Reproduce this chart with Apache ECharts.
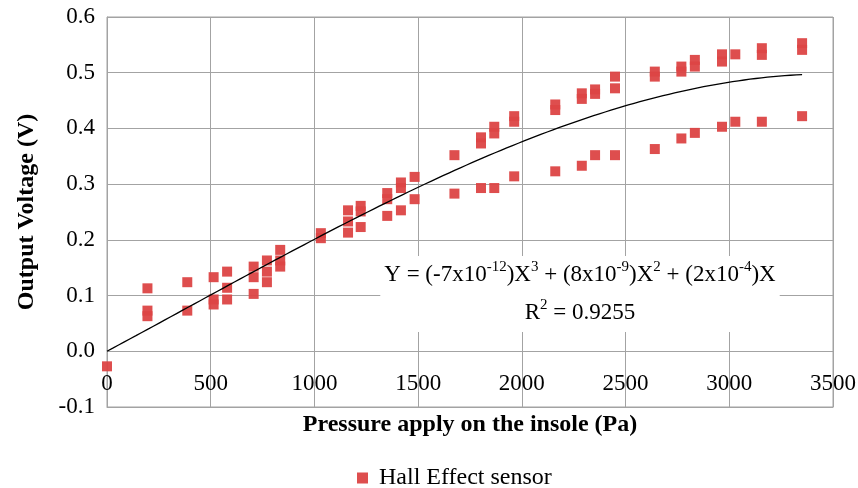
<!DOCTYPE html>
<html>
<head>
<meta charset="utf-8">
<script src="https://cdn.jsdelivr.net/npm/echarts@6/dist/echarts.min.js"></script>
<style>
  html, body { margin: 0; padding: 0; background: #fff; }
  #chart { width: 858px; height: 488px; }
</style>
</head>
<body>
<div id="chart"></div>
<script>
// Hall effect sensor calibration: applied pressure (Pa) vs output voltage (V)
const pressurePa = [
  0,
  195, 195, 195,
  387, 387,
  514, 514, 514,
  579, 579, 579,
  707, 707, 707,
  771, 771, 771,
  835, 835, 835,
  1031, 1031,
  1162, 1162, 1162,
  1223, 1223, 1223,
  1351, 1351, 1351,
  1417, 1417, 1417,
  1483, 1483,
  1675, 1675,
  1803, 1803, 1803,
  1867, 1867, 1867,
  1963, 1963, 1963,
  2161, 2161, 2161,
  2289, 2289, 2289,
  2353, 2353, 2353,
  2449, 2449, 2449,
  2641, 2641, 2641,
  2769, 2769, 2769,
  2834, 2834, 2834,
  2965, 2965, 2965,
  3029, 3029,
  3157, 3157, 3157,
  3351, 3351, 3351
];
const voltageV = [
  -0.027,
  0.113, 0.073, 0.063,
  0.124, 0.073,
  0.133, 0.093, 0.084,
  0.143, 0.114, 0.093,
  0.152, 0.133, 0.103,
  0.163, 0.143, 0.124,
  0.182, 0.163, 0.152,
  0.212, 0.203,
  0.253, 0.233, 0.213,
  0.261, 0.251, 0.223,
  0.284, 0.273, 0.243,
  0.303, 0.293, 0.253,
  0.313, 0.273,
  0.352, 0.283,
  0.384, 0.373, 0.293,
  0.403, 0.391, 0.293,
  0.422, 0.412, 0.314,
  0.443, 0.433, 0.323,
  0.463, 0.453, 0.333,
  0.470, 0.462, 0.352,
  0.493, 0.472, 0.352,
  0.502, 0.493, 0.363,
  0.511, 0.502, 0.382,
  0.523, 0.511, 0.392,
  0.533, 0.520, 0.403,
  0.533, 0.412,
  0.544, 0.532, 0.412,
  0.553, 0.541, 0.422
];

// Cubic trendline through the origin: Y = a*X^3 + b*X^2 + c*X
const trendCoef = [-7e-12, 8e-9, 2e-4];

const xTicks = { min: 0, max: 3500, step: 500 };
const yTicks = { min: -0.1, max: 0.6, step: 0.1 };

const FONT = '"Liberation Serif", "Times New Roman", serif';
const GRID_COLOR = '#a3a3a3';
const MARK_COLOR = '#dc4545';

const points = pressurePa.map((p, i) => [p, voltageV[i]]);

const xEnd = Math.max(...pressurePa);
const trend = [];
for (let k = 0; k <= 120; k++) {
  const x = xEnd * k / 120;
  trend.push([x, trendCoef[0] * x * x * x + trendCoef[1] * x * x + trendCoef[2] * x]);
}

const chart = echarts.init(document.getElementById('chart'), null, { renderer: 'canvas' });

chart.setOption({
  animation: false,
  backgroundColor: '#fff',
  textStyle: { fontFamily: FONT },
  grid: {
    left: 107, right: 25, top: 17, bottom: 81,
    outerBoundsMode: 'none',
    show: true, borderColor: GRID_COLOR, borderWidth: 1, backgroundColor: 'transparent'
  },
  xAxis: {
    type: 'value',
    min: xTicks.min, max: xTicks.max, interval: xTicks.step,
    axisLine: { show: true, onZero: false, lineStyle: { color: GRID_COLOR, width: 1 } },
    axisTick: { show: false },
    splitLine: { show: true, lineStyle: { color: GRID_COLOR, width: 1 } },
    // tick labels sit just under the zero line, inside the plot frame
    axisLabel: {
      color: '#000', fontSize: 23, fontFamily: FONT, margin: -35,
      formatter: v => String(v)
    },
    name: 'Pressure apply on the insole (Pa)',
    nameLocation: 'middle', nameGap: 6,
    nameTextStyle: { color: '#000', fontSize: 24, fontWeight: 'bold', fontFamily: FONT, verticalAlign: 'top' }
  },
  yAxis: {
    type: 'value',
    min: yTicks.min, max: yTicks.max, interval: yTicks.step,
    axisLine: { show: true, onZero: false, lineStyle: { color: GRID_COLOR, width: 1 } },
    axisTick: { show: false },
    splitLine: { show: true, lineStyle: { color: GRID_COLOR, width: 1 } },
    axisLabel: {
      color: '#000', fontSize: 23, fontFamily: FONT, margin: 12,
      formatter: v => v.toFixed(1)
    },
    name: 'Output Voltage (V)',
    nameLocation: 'middle', nameGap: 68,
    nameTextStyle: { color: '#000', fontSize: 24, fontWeight: 'bold', fontFamily: FONT }
  },
  legend: {
    top: 466, left: 357, padding: 0,
    itemWidth: 11, itemHeight: 11,
    icon: 'rect',
    data: [{ name: 'Hall Effect sensor', itemStyle: { color: MARK_COLOR } }],
    textStyle: { color: '#000', fontSize: 24, fontFamily: FONT, padding: [0, 0, 0, 6] }
  },
  series: [
    {
      name: 'Hall Effect sensor',
      type: 'scatter',
      symbol: 'rect',
      symbolSize: 10,
      itemStyle: { color: MARK_COLOR, opacity: 0.95 },
      data: points,
      z: 3
    },
    {
      name: 'trend',
      type: 'line',
      data: trend,
      showSymbol: false,
      silent: true,
      lineStyle: { color: '#000', width: 1.3 },
      z: 4
    }
  ],
  graphic: [
    {
      type: 'text',
      x: 580, y: 256,
      z: 100,
      style: {
        text: [
          '{n|Y = (-7x10}{s|-12}{n|)X}{s|3}{n| + (8x10}{s|-9}{n|)X}{s|2}{n| + (2x10}{s|-4}{n|)X}',
          '{n|R}{s|2}{n| = 0.9255}'
        ].join('\n'),
        align: 'center',
        verticalAlign: 'top',
        backgroundColor: '#fff',
        padding: [0, 4, 0, 4],
        fill: '#000',
        rich: {
          n: { fontSize: 23, fontFamily: FONT, lineHeight: 38, fill: '#000' },
          s: { fontSize: 15, fontFamily: FONT, lineHeight: 15, padding: [4, 0, 0, 0], verticalAlign: 'top', fill: '#000' }
        }
      }
    }
  ]
});
</script>
</body>
</html>
